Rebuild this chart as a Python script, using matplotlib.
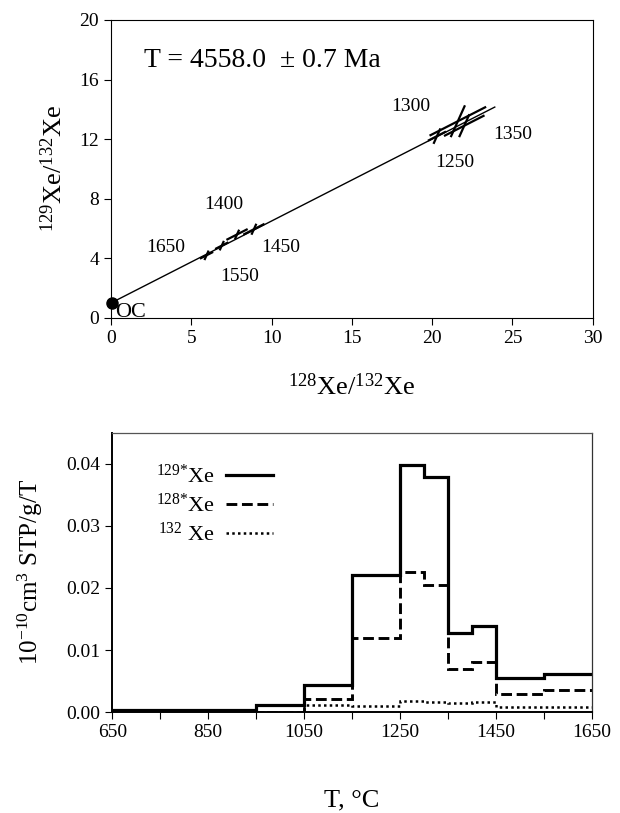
import matplotlib.pyplot as plt
import numpy as np

plt.rcParams['font.family'] = ['Liberation Serif', 'DejaVu Serif']
plt.rcParams['mathtext.fontset'] = 'custom'
plt.rcParams['mathtext.rm'] = 'Liberation Serif'
plt.rcParams['mathtext.it'] = 'Liberation Serif:italic'

# --- isochron data (top panel) ---
step_labels = ['1250', '1300', '1350', '1400', '1450', '1550', '1650']
xe128 = [20.3, 21.6, 22.0, 7.85, 8.9, 6.9, 5.95]
xe129 = [12.2, 13.2, 12.9, 5.6, 5.95, 4.85, 4.2]
maj_half = [0.5, 1.7, 1.2, 0.6, 0.6, 0.35, 0.35]   # half x-extent of long error bar
min_half = [0.45, 1.0, 0.7, 0.25, 0.3, 0.25, 0.25]  # half y-extent of short error bar
label_x = [21.4, 18.7, 25.0, 7.0, 10.6, 8.0, 3.4]
label_y = [10.4, 14.2, 12.3, 7.6, 4.7, 2.75, 4.7]

oc_x, oc_y = 0.05, 1.0
iso_x = [0.0, 23.9]
iso_y = [1.0, 14.15]
age_text = 'T = 4558.0  ± 0.7 Ma'

# --- release data (bottom panel) ---
t_edges = [650, 750, 850, 950, 1050, 1150, 1250, 1300, 1350, 1400, 1450, 1550, 1650]
xe129_rel = [0.0004, 0.0004, 0.0004, 0.0011, 0.0043, 0.022, 0.0397, 0.0379,
             0.0127, 0.0138, 0.0055, 0.0062]
xe128_rel = [0.0001, 0.0001, 0.0001, 0.0001, 0.0022, 0.012, 0.0225, 0.0204,
             0.0069, 0.008, 0.0029, 0.0035]
xe132_rel = [0.0001, 0.0001, 0.0001, 0.0001, 0.0011, 0.001, 0.0018, 0.0016,
             0.0014, 0.0016, 0.0008, 0.0008]

fig = plt.figure(figsize=(6.2, 8.13), dpi=100)

# ---------------- top panel ----------------
ax1 = fig.add_axes([0.179, 0.609, 0.777, 0.3665])
ax1.plot(iso_x, iso_y, color='black', lw=1.0)
maj_slope = 0.55
min_slope = -2.4
for i in range(len(xe128)):
    x0, y0 = xe128[i], xe129[i]
    a = maj_half[i]
    ax1.plot([x0 - a, x0 + a], [y0 - a * maj_slope, y0 + a * maj_slope],
             color='black', lw=1.6)
    b = min_half[i]
    ax1.plot([x0 + b / min_slope, x0 - b / min_slope], [y0 - b, y0 + b],
             color='black', lw=1.6)
    ax1.text(label_x[i], label_y[i], step_labels[i], ha='center', va='center',
             fontsize=14)

ax1.plot([oc_x], [oc_y], 'o', color='black', ms=8, clip_on=False, zorder=5)
ax1.text(0.25, 0.35, 'OC', fontsize=16, ha='left', va='center')
ax1.text(2.05, 17.3, age_text, fontsize=20, ha='left', va='center')

ax1.set_xlim(0, 30)
ax1.set_ylim(0, 20)
ax1.set_xticks(np.arange(0, 31, 5))
ax1.set_yticks(np.arange(0, 21, 4))
ax1.tick_params(direction='out', length=5, width=0.8, labelsize=14)
for s in ax1.spines.values():
    s.set_linewidth(0.8)
ax1.set_xlabel(r'$^{128}$Xe/$^{132}$Xe', fontsize=19, va='center')
ax1.xaxis.set_label_coords(0.5, -0.232)
ax1.set_ylabel(r'$^{129}$Xe/$^{132}$Xe', fontsize=19, va='center')
ax1.yaxis.set_label_coords(-0.118, 0.5)

# ---------------- bottom panel ----------------
ax2 = fig.add_axes([0.181, 0.124, 0.774, 0.344])
ax2.stairs(xe129_rel, t_edges, baseline=None, color='black', lw=2.3,
           label=r'$^{129{*}}$Xe')
ax2.stairs(xe128_rel, t_edges, baseline=None, color='black', lw=2.1,
           linestyle='--', label=r'$^{128{*}}$Xe')
ax2.stairs(xe132_rel, t_edges, baseline=None, color='black', lw=1.8,
           linestyle=(0, (1, 1.3)), label=r'$^{132}$ Xe')

ax2.set_xlim(650, 1650)
ax2.set_ylim(0, 0.045)
ax2.set_xticks(np.arange(650, 1651, 200))
ax2.set_xticks(np.arange(650, 1651, 100), minor=True)
ax2.set_yticks(np.arange(0, 0.041, 0.01))
ax2.set_yticklabels(['0.00', '0.01', '0.02', '0.03', '0.04'])
ax2.tick_params(which='both', direction='out', length=5, width=0.8, labelsize=14)
ax2.spines['left'].set_linewidth(1.4)
ax2.spines['bottom'].set_linewidth(1.4)
ax2.spines['top'].set_linewidth(0.9)
ax2.spines['right'].set_linewidth(0.9)
ax2.spines['top'].set_color('#555555')
ax2.spines['right'].set_color('#333333')

ax2.set_xlabel('T, °C', fontsize=19, va='center')
ax2.xaxis.set_label_coords(0.5, -0.314)
ax2.set_ylabel(r'10$^{-10}$cm$^{3}$ STP/g/T', fontsize=18, va='center')
ax2.yaxis.set_label_coords(-0.171, 0.5)

ax2.legend(loc='upper right', bbox_to_anchor=(0.335, 0.885), frameon=False,
           markerfirst=False, fontsize=16, handlelength=2.1, handletextpad=0.5,
           labelspacing=0.25, borderpad=0, borderaxespad=0)

fig.savefig('out.png', dpi=100)
